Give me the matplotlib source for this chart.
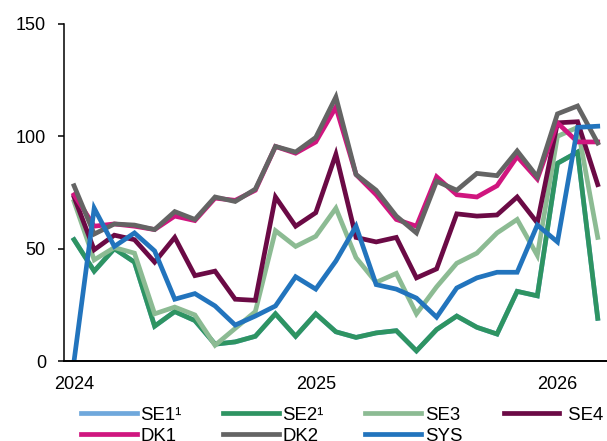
import numpy as np
import matplotlib.pyplot as plt

plt.rcParams['font.family'] = ['Liberation Sans', 'DejaVu Sans']

# monthly, Jan 2024 .. Mar 2026
months = np.arange(27)
year_ticks = [0, 12, 24]
year_labels = ['2024', '2025', '2026']

se2 = [54, 40, 50, 44, 15.5, 22, 18, 7.5, 8.5, 11, 21, 11, 21, 13, 10.5, 12.5, 13.5,
       4.5, 14, 20, 15, 12, 31, 29, 88, 93, 19]
se1 = list(se2)
se3 = [71, 45, 50.5, 48, 21, 24, 20.5, 7, 14.5, 22, 58, 51, 55.5, 68, 46, 35, 39, 21,
       33, 43.5, 48, 57, 63, 47, 100, 104, 55]
se4 = [73, 49.5, 56, 54, 44, 55, 38, 40, 27.5, 27, 73, 60, 66, 92, 55, 53, 55, 37,
       41, 65.5, 64.5, 65, 73, 61.5, 106, 106.5, 78.5]
dk1 = [74, 60, 61, 60, 58.5, 64.5, 62.5, 72.5, 71.5, 76, 95.5, 92.5, 97.5, 113, 83,
       74, 63, 60, 82, 74, 73, 78, 91, 81, 106, 97.5, 97.5]
dk2 = [78, 56.5, 61, 60.5, 58.5, 66.5, 63, 73, 71, 76.5, 95.5, 93, 99.5, 117.5, 83,
       76, 64.5, 57, 80, 76, 83.5, 82.5, 93.5, 82, 110, 113.5, 97]
sys_ = [0, 68, 51, 57, 49, 27.5, 30, 24.5, 16, 20, 24.5, 37.5, 32, 44.5, 60, 34, 32,
        28, 19.5, 32.5, 37, 39.5, 39.5, 60.5, 53, 104, 104.5]

names = ['SE1¹', 'SE2¹', 'SE3', ' SE4', 'DK1', 'DK2', 'SYS']
series = [se1, se2, se3, se4, dk1, dk2, sys_]
colors = ['#6fa8dc', '#2e9462', '#8cbb93', '#6b0a45', '#d0167f', '#646464', '#2274bd']

fig = plt.figure(figsize=(6.07, 4.41), dpi=100)
ax = fig.add_axes([0.1054, 0.1814, 0.8946, 0.7642])

lines = {}
for name, vals, c in zip(names, series, colors):
    lines[name], = ax.plot(months, vals, color=c, lw=3.4, label=name,
                           solid_joinstyle='miter')

ax.set_xlim(-0.5, 26.46)
ax.set_ylim(0, 150)
ax.set_yticks([0, 50, 100, 150])
ax.set_xticks(year_ticks)
ax.set_xticklabels(year_labels)
ax.tick_params(axis='y', labelsize=13, length=4, width=1.1, pad=9)
ax.tick_params(axis='x', labelsize=13, length=0, pad=11)
for s in ['top', 'right']:
    ax.spines[s].set_visible(False)
ax.spines['left'].set_linewidth(1.1)
ax.spines['bottom'].set_linewidth(1.4)

# legend fills column by column, so order it to read row by row
order = ['SE1¹', 'DK1', 'SE2¹', 'DK2', 'SE3', 'SYS', ' SE4']
fig.legend([lines[n] for n in order], order, loc='upper left',
           bbox_to_anchor=(0.133, 0.078), ncol=4, frameon=False,
           fontsize=13.4, handlelength=3.0, handletextpad=0.2, columnspacing=2.22,
           labelspacing=0.22, borderaxespad=0, borderpad=0)

fig.savefig('out.png', dpi=100)
